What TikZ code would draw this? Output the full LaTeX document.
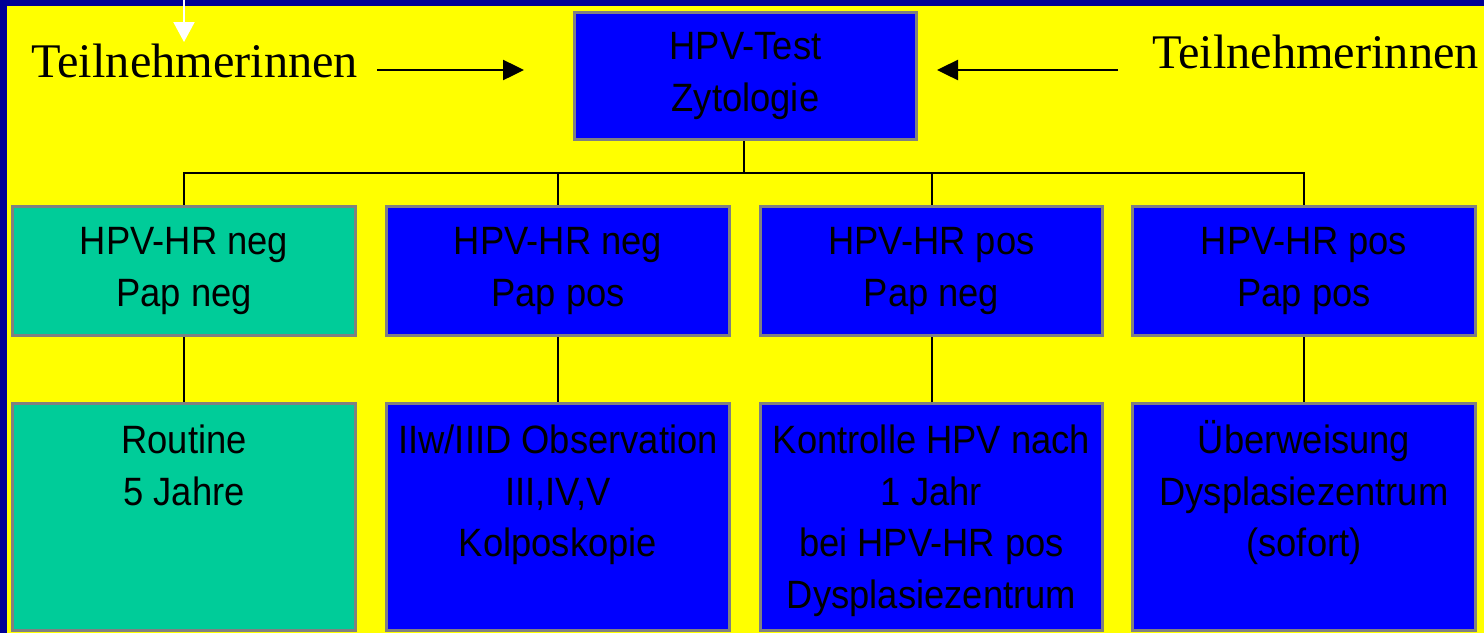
\documentclass[tikz,border=0pt]{standalone}
\usepackage{fontspec}
\setmainfont{Liberation Sans}[FakeStretch=0.92]
\newfontfamily\serifrm{Liberation Serif}
\usetikzlibrary{arrows.meta}

\definecolor{frameblue}{RGB}{0,0,150}
\definecolor{bgyellow}{RGB}{255,255,0}
\definecolor{boxblue}{RGB}{0,0,255}
\definecolor{boxgreen}{RGB}{0,204,153}
\definecolor{boxline}{RGB}{128,128,128}

\newcommand{\toptext}[1]{\parbox[c][4.0cm][t]{6.7cm}{\centering\strut #1}}

\begin{document}
\begin{tikzpicture}[x=0.02cm, y=-0.02cm,
    box/.style={draw=boxline, line width=0.06cm, fill=boxblue, inner sep=0pt,
      minimum width=6.86cm, align=center, font=\fontsize{22.5}{29.5}\selectfont},
    topbox/.style={box, minimum height=2.56cm},
    midbox/.style={box, minimum height=2.6cm},
    lowbox/.style={box, minimum height=4.56cm},
    tn/.style={inner sep=0pt, font=\serifrm\fontsize{27.5}{30}\selectfont},
    link/.style={line width=0.04cm},
    arr/.style={line width=0.05cm, -{Triangle[length=0.42cm, width=0.4cm]}}]
  \useasboundingbox (0,0) rectangle (1484,633);
  \fill [frameblue] (0,0) rectangle (1484,633);
  \fill [bgyellow] (7,6) rectangle (1484,633);

  \node (top) at (745.5,76) [topbox] {HPV-Test\\Zytologie};

  \node (tnL) at (31,77) [tn, anchor=base west] {Teilnehmerinnen};
  \node (tnR) at (1479,68) [tn, anchor=base east] {Teilnehmerinnen};
  \coordinate (inL) at (377,70);
  \coordinate (toL) at (524,70);
  \coordinate (inR) at (1118,70);
  \coordinate (toR) at (937,70);
  \draw [arr] (inL) -- (toL);
  \draw [arr] (inR) -- (toR);
  \coordinate (wTop) at (184,0);
  \coordinate (wTip) at (184,42);
  \draw [white, line width=0.04cm, -{Triangle[length=0.4cm, width=0.42cm]}] (wTop) -- (wTip);

  \node (a1) at (184,271) [midbox, fill=boxgreen] {HPV-HR neg\\Pap neg};
  \node (a2) at (558,271) [midbox] {HPV-HR neg\\Pap pos};
  \node (a3) at (931.5,271) [midbox] {HPV-HR pos\\Pap neg};
  \node (a4) at (1304,271) [midbox] {HPV-HR pos\\Pap pos};

  \node (b1) at (184,517) [lowbox, fill=boxgreen] {\toptext{Routine\\5 Jahre}};
  \node (b2) at (558,517) [lowbox] {\toptext{IIw/IIID Observation\\III,IV,V\\Kolposkopie}};
  \node (b3) at (931.5,517) [lowbox] {\toptext{Kontrolle HPV nach\\1 Jahr\\bei HPV-HR pos\\Dysplasiezentrum}};
  \node (b4) at (1304,517) [lowbox] {\toptext{Überweisung\\Dysplasiezentrum\\(sofort)}};

  \coordinate (bus) at (744,173);
  \draw [link] (top.south -| bus) -- (bus);
  \draw [link] (a1.north) |- (bus) -| (a4.north);
  \draw [link] (a2.north) -- (a2.north |- bus);
  \draw [link] (a3.north) -- (a3.north |- bus);
  \foreach \i in {1,...,4}
    \draw [link] (a\i.south) -- (b\i.north);
\end{tikzpicture}
\end{document}
